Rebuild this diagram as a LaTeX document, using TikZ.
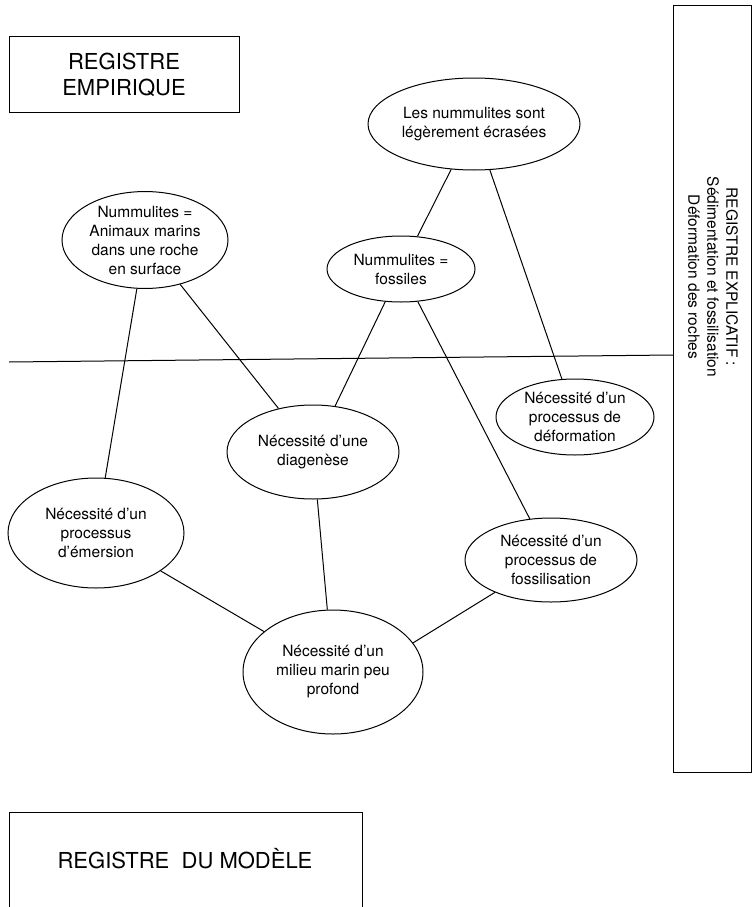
\documentclass[tikz,border=0pt]{standalone}
\usepackage{fontspec}
\setmainfont{TeX Gyre Heros}
\usetikzlibrary{shapes.geometric}

\begin{document}
\begin{tikzpicture}[x=1pt, y=-1pt, line width=1pt,
        idee/.style={draw, ellipse, inner sep=0pt, align=center, font=\fontsize{15.5}{19}\selectfont},
        registre/.style={align=center, font=\fontsize{22}{26}\selectfont}]
            \useasboundingbox (0,0) rectangle (752,907);

            % les trois registres
            \node[registre, draw, minimum width=230pt, minimum height=75pt] (empir) at (124,74.5) {REGISTRE\\EMPIRIQUE};
            \draw (673,6) rectangle (751,772);
            \node[align=center, rotate=-90, font=\fontsize{15.5}{19}\selectfont] (expl) at (713,277) {REGISTRE EXPLICATIF :\\Sédimentation et fossilisation\\Déformation des roches};
            \draw (9,907) -- (9,812) -- (362,812) -- (362,907);
            \node[registre] (modele) at (185,859) {REGISTRE\ \ DU MODÈLE};

            \coordinate (sepL) at (9,362);
            \coordinate (sepR) at (673,355);
            \draw (sepL) -- (sepR);

            % au-dessus de la ligne
            \node[idee, minimum width=212pt, minimum height=92pt] (ecras) at (474,124) {Les nummulites sont\\légèrement écrasées};
            \node[idee, minimum width=166pt, minimum height=96pt] (anim) at (145,240) {Nummulites =\\Animaux marins\\dans une roche\\en surface};
            \node[idee, minimum width=148pt, minimum height=66pt] (foss) at (401,269) {Nummulites =\\fossiles};

            % en dessous
            \node[idee, minimum width=158pt, minimum height=76pt] (deform) at (575,417) {Nécessité d’un\\processus de\\déformation};
            \node[idee, minimum width=172pt, minimum height=94pt] (diag) at (313,452) {Nécessité d’une\\diagenèse};
            \node[idee, minimum width=176pt, minimum height=110pt] (emers) at (96,533) {Nécessité d’un\\processus\\d’émersion};
            \node[idee, minimum width=172pt, minimum height=84pt] (fossil) at (551,560) {Nécessité d’un\\processus de\\fossilisation};
            \node[idee, minimum width=180pt, minimum height=124pt] (milieu) at (333,672) {Nécessité d’un\\milieu marin peu\\profond};

            \draw (ecras) -- (foss);
            \draw (ecras) -- (deform);
            \draw (anim) -- (diag);
            \draw (anim) -- (emers);
            \draw (foss) -- (diag);
            \draw (foss) -- (fossil);
            \draw (diag) -- (milieu);
            \draw (emers) -- (milieu);
            \draw (fossil.210) -- (milieu.20);
        \end{tikzpicture}
\end{document}
